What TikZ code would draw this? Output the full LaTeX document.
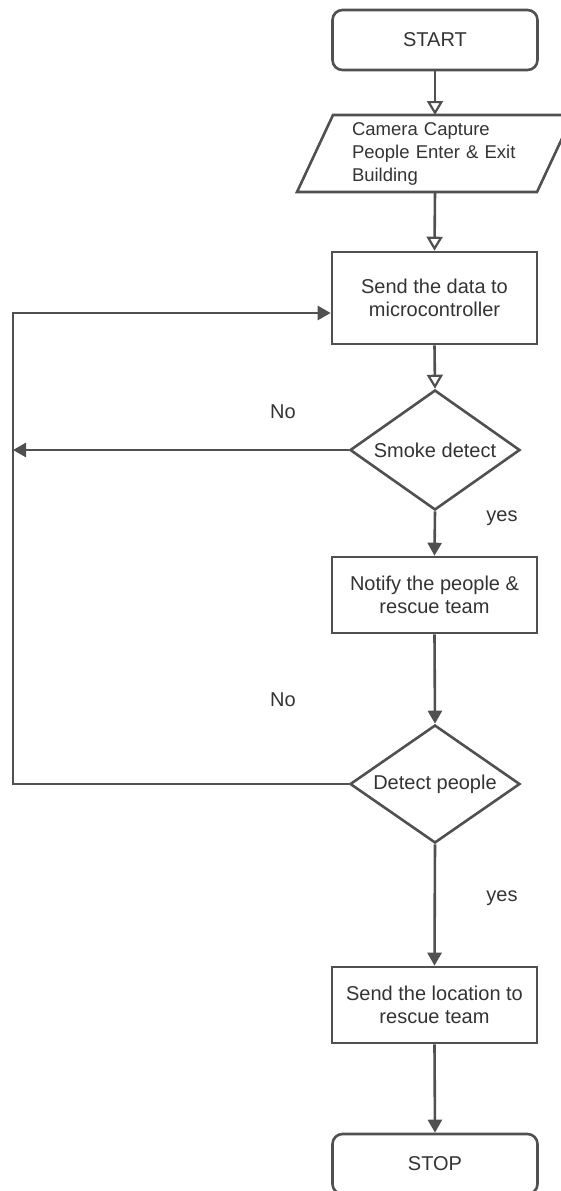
\documentclass[tikz,border=0pt]{standalone}
\usepackage{fontspec}
\setmainfont{Liberation Sans}
\usetikzlibrary{shapes.geometric,arrows.meta}
\definecolor{linec}{HTML}{505050}
\definecolor{textc}{HTML}{333333}
\begin{document}
\begin{tikzpicture}[x=0.5pt,y=-0.5pt,
  base/.style={draw=linec,line width=1.3pt,text=textc,inner sep=0pt,
    font=\fontsize{10}{11.5}\selectfont,align=center},
  termbox/.style={base,rectangle,rounded corners=5pt,minimum width=102.5pt,minimum height=30pt},
  procbox/.style={base,rectangle,minimum width=102.5pt},
  decbox/.style={base,diamond,aspect=1.417,minimum width=85pt,minimum height=60pt},
  iotext/.style={text=textc,inner sep=0pt,font=\fontsize{9.25}{11.5}\selectfont,
    align=left,text width=83pt},
  conn/.style={draw=linec,line width=1.3pt},
  oarr/.style={conn,-{Triangle[open,width=8pt,length=7pt,line width=1.1pt]}},
  farr/.style={conn,-{Triangle[width=7pt,length=6.5pt]}},
  lbl/.style={text=textc,font=\fontsize{10}{12}\selectfont,inner sep=0pt}
]
\useasboundingbox (0,0) rectangle (561,1191);

\node[termbox] (start) at (435,40) {START};

% parallelogram
\node[iotext,minimum height=38.5pt] (io) at (435,153.5) {Camera Capture\\People Enter \& Exit\\Building};
\draw[draw=linec,line width=1.3pt] (333,115) -- (573,115) -- (537,192) -- (297,192) -- cycle;
\coordinate (iotop) at (435,115);
\coordinate (iobot) at (435,192);

\node[procbox,minimum height=46pt] (send) at (434.5,298) {Send the data to\\microcontroller};
\node[decbox] (smoke) at (435,450) {Smoke detect};
\node[procbox,minimum height=38pt] (notify) at (434.5,595) {Notify the people \&\\rescue team};
\node[decbox,minimum height=59pt] (detect) at (435,784) {Detect people};
\node[procbox,minimum height=38pt] (loc) at (434.5,1005) {Send the location to\\rescue team};
\node[termbox] (stop) at (435,1164) {STOP};

\coordinate (lefta) at (13,450);
\coordinate (leftb) at (13,784);
\coordinate (leftc) at (13,313);

% connectors
\draw[oarr] (start.south) -- (iotop);
\draw[oarr] (iobot) -- (send.north);
\draw[oarr] (send.south) -- (smoke.north);
\draw[farr] (smoke.south) -- (notify.north);
\draw[farr] (notify.south) -- (detect.north);
\draw[farr] (detect.south) -- (loc.north);
\draw[farr] (loc.south) -- (stop.north);
\draw[farr] (smoke.west) -- (lefta);
\draw[farr] (detect.west) -- (leftb) -- (leftc) -- (leftc -| send.west);

% labels
\node[lbl] (no1) at (283,412) {No};
\node[lbl] (yes1) at (502,518) {yes};
\node[lbl] (no2) at (283,700) {No};
\node[lbl] (yes2) at (502,898) {yes};
\end{tikzpicture}
\end{document}
